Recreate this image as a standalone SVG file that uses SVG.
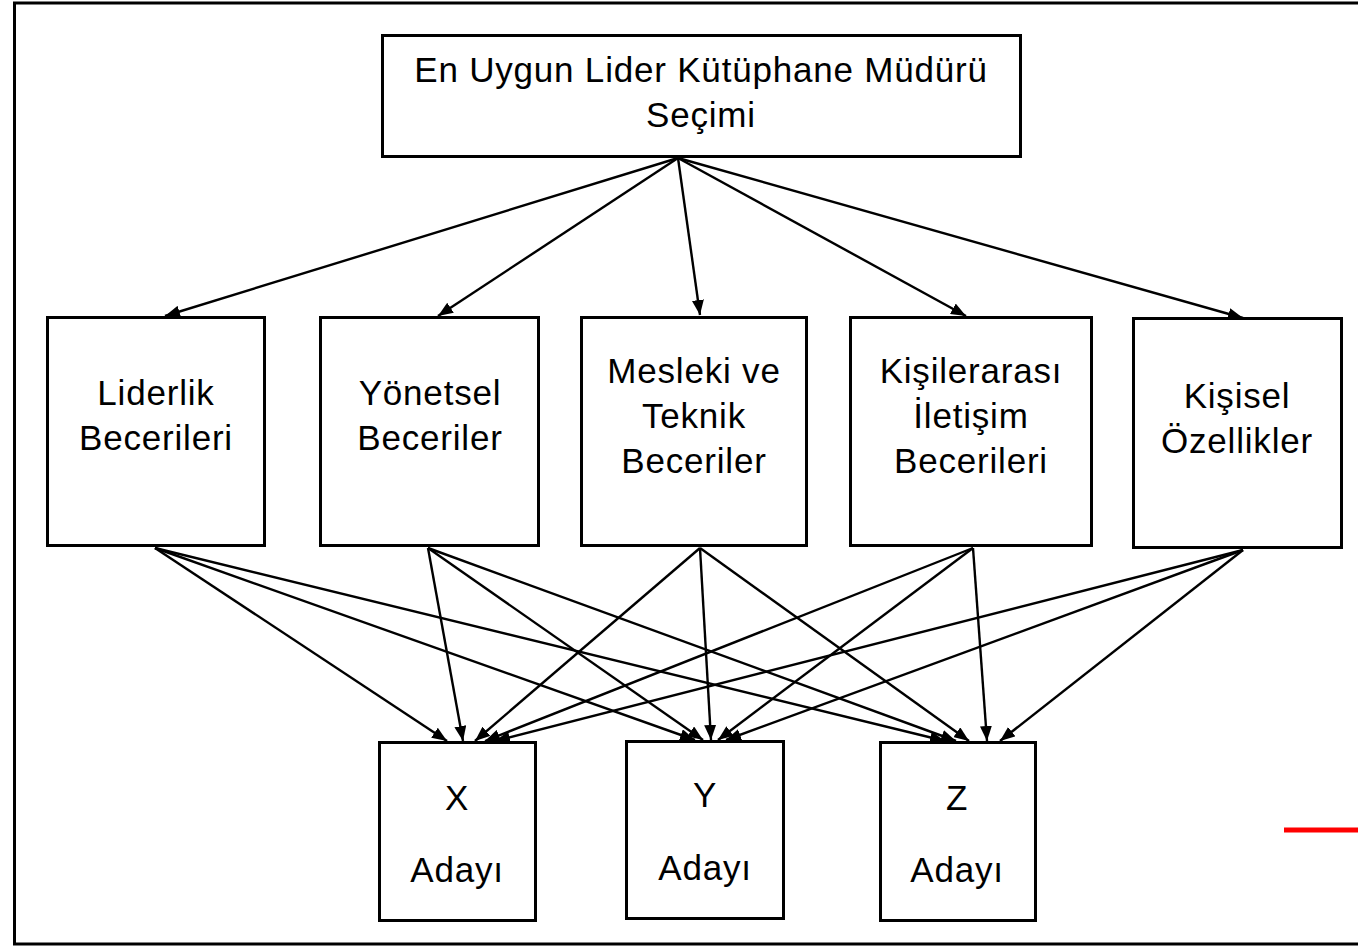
<svg xmlns="http://www.w3.org/2000/svg" width="1358" height="947" viewBox="0 0 1358 947">
<defs>
<style>
.box{fill:#fff;stroke:#000;stroke-width:3}
.t{font-family:"Liberation Sans",Arial,sans-serif;font-size:35px;letter-spacing:0.8px;fill:#000;text-anchor:middle}
.c line{stroke:#000;stroke-width:2.4;marker-end:url(#ah)}
</style>
<marker id="ah" viewBox="0 0 15 12" refX="15" refY="6" markerWidth="15" markerHeight="12" markerUnits="userSpaceOnUse" orient="auto">
<path d="M0,0 L15,6 L0,12 z" fill="#000"/>
</marker>
</defs>
<rect x="0" y="0" width="1358" height="947" fill="#fff"/>
<rect x="14.5" y="3" width="1360" height="941" fill="none" stroke="#000" stroke-width="3"/>
<line x1="1284" y1="830" x2="1358" y2="830" stroke="#f00" stroke-width="5"/>
<g class="c" id="connectors">
<line x1="678" y1="158" x2="165" y2="316"/>
<line x1="678" y1="158" x2="438" y2="316"/>
<line x1="678" y1="158" x2="700" y2="315"/>
<line x1="678" y1="158" x2="966" y2="316"/>
<line x1="678" y1="158" x2="1243" y2="318"/>
<line x1="155" y1="548" x2="447" y2="741"/>
<line x1="155" y1="548" x2="695" y2="740"/>
<line x1="155" y1="548" x2="945" y2="741"/>
<line x1="428" y1="548" x2="463" y2="741"/>
<line x1="428" y1="548" x2="703" y2="740"/>
<line x1="428" y1="548" x2="956" y2="741"/>
<line x1="700" y1="548" x2="475" y2="741"/>
<line x1="700" y1="548" x2="711" y2="740"/>
<line x1="700" y1="548" x2="969" y2="741"/>
<line x1="973" y1="548" x2="485" y2="741"/>
<line x1="973" y1="548" x2="718" y2="740"/>
<line x1="973" y1="548" x2="987" y2="741"/>
<line x1="1243" y1="550" x2="495" y2="741"/>
<line x1="1243" y1="550" x2="726" y2="740"/>
<line x1="1243" y1="550" x2="1000" y2="741"/>
</g>
<g id="n-top"><rect class="box" x="382.5" y="35.5" width="638" height="121"/>
<text class="t" x="701" y="82">En Uygun Lider Kütüphane Müdürü</text>
<text class="t" x="701" y="127">Seçimi</text></g>
<g id="n-liderlik"><rect class="box" x="47.5" y="317.5" width="217" height="228"/>
<text class="t" x="156" y="405">Liderlik</text>
<text class="t" x="156" y="450">Becerileri</text></g>
<g id="n-yonetsel"><rect class="box" x="320.5" y="317.5" width="218" height="228"/>
<text class="t" x="430" y="405">Yönetsel</text>
<text class="t" x="430" y="450">Beceriler</text></g>
<g id="n-mesleki"><rect class="box" x="581.5" y="317.5" width="225" height="228"/>
<text class="t" x="694" y="383">Mesleki ve</text>
<text class="t" x="694" y="428">Teknik</text>
<text class="t" x="694" y="473">Beceriler</text></g>
<g id="n-kisilerarasi"><rect class="box" x="850.5" y="317.5" width="241" height="228"/>
<text class="t" x="971" y="383">Kişilerarası</text>
<text class="t" x="971" y="428">İletişim</text>
<text class="t" x="971" y="473">Becerileri</text></g>
<g id="n-kisisel"><rect class="box" x="1133.5" y="318.5" width="208" height="229"/>
<text class="t" x="1237" y="408">Kişisel</text>
<text class="t" x="1237" y="453">Özellikler</text></g>
<g id="n-x"><rect class="box" x="379.5" y="742.5" width="156" height="178"/>
<text class="t" x="457" y="810">X</text>
<text class="t" x="457" y="882">Adayı</text></g>
<g id="n-y"><rect class="box" x="626.5" y="741.5" width="157" height="177"/>
<text class="t" x="705" y="807">Y</text>
<text class="t" x="705" y="880">Adayı</text></g>
<g id="n-z"><rect class="box" x="880.5" y="742.5" width="155" height="178"/>
<text class="t" x="957" y="810">Z</text>
<text class="t" x="957" y="882">Adayı</text></g>
</svg>
